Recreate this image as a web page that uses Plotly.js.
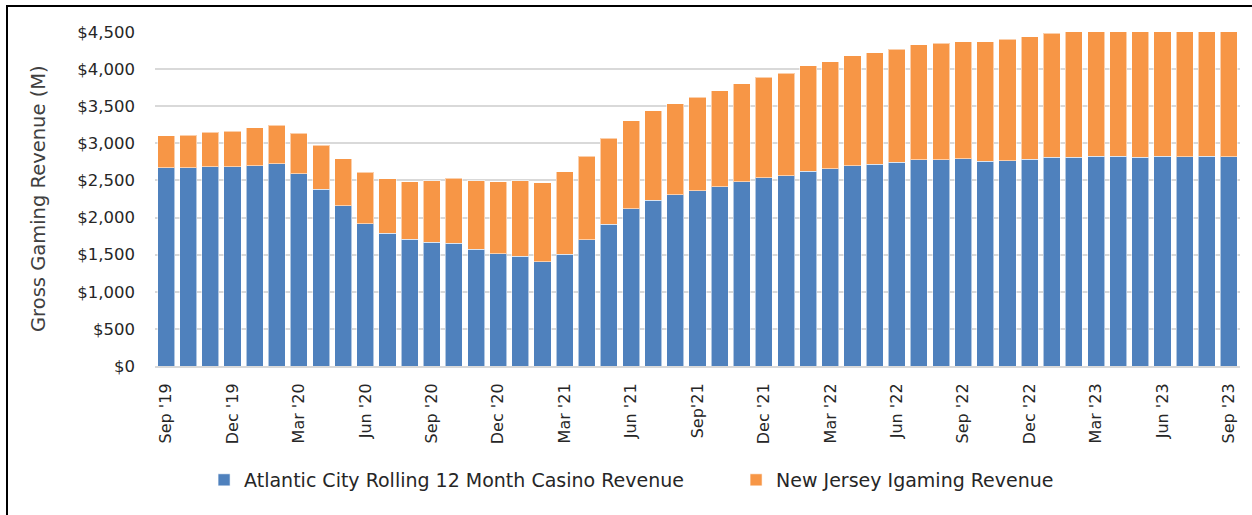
<!DOCTYPE html>
<html>
<head>
<meta charset="utf-8">
<script src="https://cdn.plot.ly/plotly-3.0.1.min.js"></script>
<style>
  html, body { margin: 0; padding: 0; background: #fff; }
  #wrap { position: relative; width: 1252px; height: 515px; overflow: hidden; }
  #chart { width: 1252px; height: 515px; }
  #frame { position: absolute; left: 6px; top: 5px; right: -4px; bottom: -4px;
           border-left: 2px solid #000; border-top: 2px solid #000; pointer-events: none; }
</style>
</head>
<body>
<div id="wrap">
  <div id="chart"></div>
  <div id="frame"></div>
</div>
<script>
// Months, Sep 2019 .. Sep 2023
const months = [
  "Sep '19","Oct '19","Nov '19","Dec '19","Jan '20","Feb '20","Mar '20","Apr '20","May '20","Jun '20","Jul '20","Aug '20",
  "Sep '20","Oct '20","Nov '20","Dec '20","Jan '21","Feb '21","Mar '21","Apr '21","May '21","Jun '21","Jul '21","Aug '21",
  "Sep '21","Oct '21","Nov '21","Dec '21","Jan '22","Feb '22","Mar '22","Apr '22","May '22","Jun '22","Jul '22","Aug '22",
  "Sep '22","Oct '22","Nov '22","Dec '22","Jan '23","Feb '23","Mar '23","Apr '23","May '23","Jun '23","Jul '23","Aug '23",
  "Sep '23"
];

// Atlantic City rolling 12-month casino revenue ($M)
const casinoRevenue = [
  2672, 2672, 2686, 2686, 2699, 2726, 2587, 2380, 2160, 1917, 1788, 1707,
  1666, 1653, 1572, 1513, 1478, 1405, 1505, 1698, 1909, 2119, 2232, 2304,
  2358, 2416, 2483, 2537, 2564, 2623, 2658, 2699, 2721, 2744, 2779, 2779,
  2789, 2762, 2766, 2784, 2811, 2811, 2825, 2825, 2811, 2825, 2820, 2825,
  2820
];

// New Jersey iGaming revenue ($M), stacked on top
const igamingRevenue = [
  427, 440, 462, 480, 508, 521, 548, 593, 633, 692, 736, 777,
  831, 880, 925, 971, 1019, 1063, 1109, 1131, 1158, 1182, 1208, 1230,
  1266, 1293, 1321, 1352, 1379, 1419, 1442, 1478, 1500, 1523, 1546, 1568,
  1581, 1608, 1635, 1653, 1671, 1700, 1720, 1740, 1760, 1775, 1790, 1800,
  1815
];

// Tick labels shown (every third month)
const tickMonths = ["Sep '19","Dec '19","Mar '20","Jun '20","Sep '20","Dec '20","Mar '21","Jun '21","Sep '21",
                    "Dec '21","Mar '22","Jun '22","Sep '22","Dec '22","Mar '23","Jun '23","Sep '23"];
const tickLabels = ["Sep '19","Dec '19","Mar '20","Jun '20","Sep '20","Dec '20","Mar '21","Jun '21","Sep'21",
                    "Dec '21","Mar '22","Jun '22","Sep '22","Dec '22","Mar '23","Jun '23","Sep '23"];

const yTicks = [0, 500, 1000, 1500, 2000, 2500, 3000, 3500, 4000, 4500];
const yTickLabels = ["$0","$500","$1,000","$1,500","$2,000","$2,500","$3,000","$3,500","$4,000","$4,500"];

const FONT = "DejaVu Sans, sans-serif";

const traces = [
  {
    type: "bar",
    name: "Atlantic City Rolling 12 Month Casino Revenue",
    x: months,
    y: casinoRevenue,
    marker: { color: "#4F81BD", line: { color: "rgba(255,255,255,0.55)", width: 1 } },
    hoverinfo: "x+y"
  },
  {
    type: "bar",
    name: "New Jersey Igaming Revenue",
    x: months,
    y: igamingRevenue,
    marker: { color: "#F79646", line: { color: "rgba(255,255,255,0.55)", width: 1 } },
    hoverinfo: "x+y"
  }
];

const layout = {
  width: 1252,
  height: 515,
  barmode: "stack",
  bargap: 0.23,
  paper_bgcolor: "#ffffff",
  plot_bgcolor: "#ffffff",
  margin: { l: 155, r: 12, t: 32, b: 149, pad: 0, autoexpand: false },
  font: { family: FONT, color: "#262626", size: 16 },
  showlegend: true,
  legend: {
    orientation: "h",
    xref: "container", yref: "container",
    x: 0.163, xanchor: "left",
    y: 0.068, yanchor: "middle",
    font: { family: FONT, size: 19, color: "#262626" },
    traceorder: "normal",
    itemwidth: 30,
    entrywidth: 487,
    bgcolor: "rgba(0,0,0,0)"
  },
  xaxis: {
    type: "category",
    categoryorder: "array",
    categoryarray: months,
    tickmode: "array",
    tickvals: tickMonths,
    ticktext: tickLabels,
    tickangle: -90,
    ticks: "",
    ticklabelstandoff: 9,
    tickfont: { family: FONT, size: 16, color: "#262626" },
    showgrid: false,
    showline: true,
    linecolor: "#D9D9D9",
    linewidth: 2,
    zeroline: false,
    automargin: false,
    fixedrange: true
  },
  yaxis: {
    range: [0, 4500],
    tickmode: "array",
    tickvals: yTicks,
    ticktext: yTickLabels,
    ticks: "",
    ticklabelstandoff: 19,
    tickfont: { family: FONT, size: 16.5, color: "#262626" },
    showgrid: true,
    gridcolor: "#D9D9D9",
    gridwidth: 2,
    zeroline: false,
    showline: false,
    automargin: false,
    fixedrange: true
  },
  annotations: [
    {
      text: "Gross Gaming Revenue (M)",
      xref: "paper", yref: "paper",
      x: 0, y: 0.5,
      xanchor: "center", yanchor: "middle",
      xshift: -117,
      textangle: -90,
      showarrow: false,
      font: { family: FONT, size: 19.5, color: "#404040" }
    }
  ]
};

Plotly.newPlot("chart", traces, layout, { displayModeBar: false, staticPlot: true });
</script>
</body>
</html>
